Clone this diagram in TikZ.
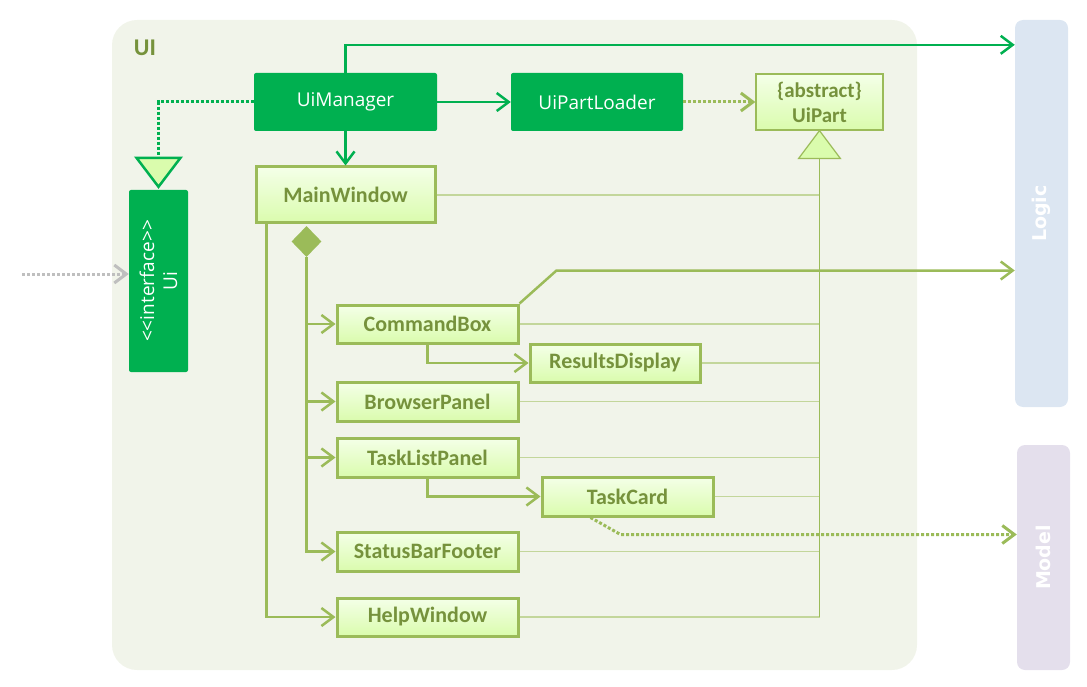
\documentclass[tikz,border=0pt]{standalone}
\usepackage{fontspec}
\setmainfont{Carlito}
\newfontfamily\uisans{Open Sans}
\newfontfamily\layerfont{DejaVu Sans}
\usetikzlibrary{positioning}
\usetikzlibrary{calc}
\usetikzlibrary{arrows.meta}
\usetikzlibrary{shapes.geometric}
\definecolor{uigreen}{HTML}{00B050}
\definecolor{partolive}{HTML}{9BBB59}
\definecolor{olivetext}{HTML}{76923C}
\definecolor{thinolive}{HTML}{C3D69B}
\definecolor{pkgbg}{HTML}{F1F4EA}
\definecolor{logicbg}{HTML}{DCE6F2}
\definecolor{modelbg}{HTML}{E4DFEC}
\definecolor{boxtop}{HTML}{F4FFE8}
\definecolor{boxbottom}{HTML}{DAFCAD}
\definecolor{callergray}{HTML}{BFBFBF}
\tikzset{
	greenbox/.style={fill=uigreen, text=white, rounded corners=2pt, inner sep=0pt,
		font=\uisans\fontsize{19}{23}\selectfont},
	partbox/.style={draw=partolive, line width=3pt, top color=boxtop, bottom color=boxbottom,
		text=olivetext, inner sep=0pt, font=\fontsize{22}{26}\selectfont\bfseries},
	layerbox/.style={rounded corners=8pt, inner sep=0pt, minimum width=53pt},
	layertext/.style={rotate=90, text=white, font=\layerfont\bfseries\fontsize{19}{23}\selectfont},
	openhead/.style={-{Straight Barb[length=12pt,width=18pt]}},
	greenline/.style={draw=uigreen, line width=2.5pt},
	oliveline/.style={draw=partolive, line width=2.5pt},
	thinline/.style={draw=thinolive, line width=1.5pt},
	dotline/.style={line width=3pt, dash pattern=on 3pt off 2pt},
}

\begin{document}
\begin{tikzpicture}[x=1pt, y=-1pt]
	\useasboundingbox (0,0) rectangle (1087,687);
	
	% UI package
	\fill[pkgbg, rounded corners=25pt] (112,20) rectangle (917,670);
	\node[text=olivetext, font=\fontsize{24}{28}\selectfont\bfseries] (uilabel) at (145,48) {UI};
	
	% other layers
	\node[layerbox, fill=logicbg, minimum height=387pt,
		label={[layertext]center:Logic}] (logic) at (1041.5,213.5) {};
	\node[layerbox, fill=modelbg, minimum height=225pt,
		label={[layertext]center:Model}] (model) at (1043.5,557.5) {};
	
	% top row
	\node[greenbox, minimum width=183pt, minimum height=58pt] (uimanager) at (345.5,102) {UiManager};
	\node[greenbox, minimum width=172pt, minimum height=58pt] (loader) at (597,102) {UiPartLoader};
	\node[partbox, line width=1.2pt, minimum width=127pt, minimum height=56pt, align=center,
		font=\fontsize{21}{25}\selectfont\bfseries] (uipart) at (819.5,102) {\{abstract\}\\UiPart};
	
	% interface
	\node[greenbox, minimum width=59pt, minimum height=182pt,
		label={[rotate=90, text=white, align=center, font=\uisans\fontsize{19}{23}\selectfont]center:{<\kern0pt<interface>\kern0pt>\\Ui}}] (ui) at (158.5,281) {};
	
	% parts
	\node[partbox, minimum width=179pt, minimum height=56pt] (mainwindow) at (345.5,195) {MainWindow};
	\node[partbox, minimum width=181pt, minimum height=38pt] (commandbox) at (427.5,324) {CommandBox};
	\node[partbox, minimum width=170pt, minimum height=38pt] (results) at (615,363) {ResultsDisplay};
	\node[partbox, minimum width=181pt, minimum height=39pt] (browser) at (427.5,401.5) {BrowserPanel};
	\node[partbox, minimum width=181pt, minimum height=39pt] (tasklist) at (427.5,457.5) {TaskListPanel};
	\node[partbox, minimum width=171pt, minimum height=39pt] (taskcard) at (627.5,496.5) {TaskCard};
	\node[partbox, minimum width=181pt, minimum height=39pt] (statusbar) at (427.5,551.5) {StatusBarFooter};
	\node[partbox, minimum width=181pt, minimum height=38pt] (helpwindow) at (427.5,617) {HelpWindow};
	
	% inheritance from UiPart
	\coordinate (inhbase) at ($(uipart.south)+(0,28)$);
	\foreach \part in {mainwindow,commandbox,results,browser,tasklist,taskcard,statusbar,helpwindow}
		\draw[thinline] (\part.east) -- (\part.east -| inhbase);
	\draw[partolive, line width=1.5pt] (inhbase) -- (inhbase |- helpwindow.east);
	\filldraw[fill=boxbottom, draw=partolive, line width=1.2pt] ($(inhbase)+(-21,0)$) -- ($(inhbase)+(21,0)$) -- (uipart.south) -- cycle;
	
	% UiManager
	\coordinate (logictop) at ($(uimanager.north)+(0,-28)$);
	\draw[greenline, openhead] (uimanager.north) -- (logictop) -- (logictop -| logic.west);
	\draw[greenline, openhead] (uimanager) -- (loader);
	\draw[greenline, openhead] (uimanager) -- (mainwindow);
	\draw[oliveline, dotline, openhead] (loader) -- (uipart);
	
	% realisation of Ui
	\coordinate (ifbase) at ($(ui.north)+(0,-32)$);
	\draw[greenline, dotline] (uimanager.west) -| (ifbase);
	\filldraw[fill=boxbottom, draw=uigreen, line width=2.5pt] ($(ifbase)+(-22,0)$) -- ($(ifbase)+(22,0)$) -- ($(ui.north)+(0,-3)$) -- cycle;
	\coordinate (caller) at (22,274);
	\draw[callergray, dotline, openhead] (caller) -- (caller -| ui.west);
	
	% MainWindow composition
	\node[diamond, fill=partolive, inner sep=0pt, minimum width=30pt, minimum height=31pt] (agg) at ($(mainwindow.south west)+(52,17)$) {};
	\foreach \part in {commandbox,browser,tasklist,statusbar}
		\draw[oliveline, openhead] (agg.south) |- (\part.west);
	\draw[oliveline, openhead] ($(mainwindow.south west)+(12,0)$) |- (helpwindow.west);
	\draw[oliveline, openhead] (commandbox.south) |- (results.west);
	\draw[oliveline, openhead] (tasklist.south) |- (taskcard.west);
	
	% to Logic and Model
	\coordinate (cbbend) at ($(commandbox.north east)+(37,-33)$);
	\draw[oliveline, openhead] (commandbox.north east) -- (cbbend) -- (cbbend -| logic.west);
	\coordinate (tcstart) at ($(taskcard.south)+(-37,0)$);
	\coordinate (tcbend) at ($(tcstart)+(30,17)$);
	\draw[oliveline, dotline, openhead] (tcstart) -- (tcbend) -- (tcbend -| model.west);
	
\end{tikzpicture}
\end{document}
